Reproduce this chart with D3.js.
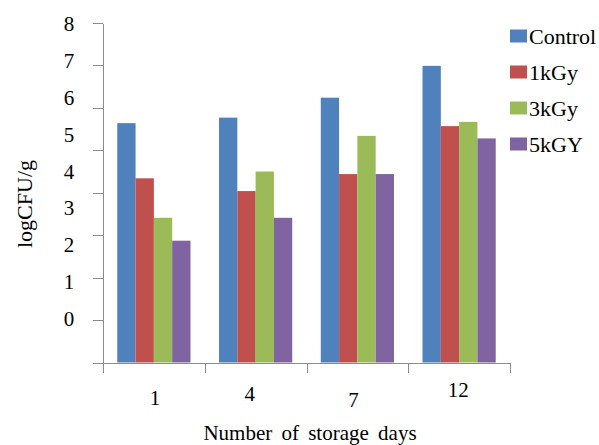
<!DOCTYPE html>
<html>
  <head>
    <title>logCFU/g by storage days</title>
    <meta charset="utf-8">
    <style>
      body {
        margin: 0;
        background-color: white;
      }
      svg text {
        font-family: "Liberation Serif", "Times New Roman", "DejaVu Serif", serif;
        fill: black;
      }
      .axis path,
      .axis line {
        fill: none;
        stroke: #8c8c8c;
        shape-rendering: crispEdges;
      }
    </style>
  </head>
  <body>
  <svg class="graph"></svg>
  <script src="https://d3js.org/d3.v7.min.js"></script>
  <script>
  // data
  var days = ["1", "4", "7", "12"];
  var series = ["Control", "1kGy", "3kGy", "5kGY"];
  var control = [5.64, 5.77, 6.24, 6.99];
  var kGy1 = [4.34, 4.04, 4.44, 5.57];
  var kGy3 = [3.41, 4.50, 5.34, 5.67];
  var kGy5 = [2.87, 3.41, 4.44, 5.28];
  var yTicks = [0, 1, 2, 3, 4, 5, 6, 7, 8];
  var colors = ["#4f81bd", "#c0504d", "#9bbb59", "#8064a2"];

  var values = [control, kGy1, kGy3, kGy5];
  var rows = days.map(function(d, i) {
    return {day: d, vals: series.map(function(s, j) { return {key: s, v: values[j][i]}; })};
  });

  var width = 599, height = 445;
  var plot = {left: 103, right: 510, top: 23, bottom: 362.5};

  var svg = d3.select("svg")
    .attr("width", width)
    .attr("height", height);

  var x0 = d3.scaleBand()
    .domain(days)
    .range([plot.left, plot.right]);

  var x1 = d3.scaleBand()
    .domain(series)
    .range([0, x0.bandwidth()])
    .paddingOuter(0.78);

  var y = d3.scaleLinear()
    .domain([0, 8])
    .range([plot.bottom, plot.top]);

  // the printed tick labels sit a bit off the tick marks in the original
  var yLab = d3.scaleLinear()
    .domain([0, 8])
    .range([318.8, 23.7]);

  var color = d3.scaleOrdinal().domain(series).range(colors);

  // bars
  var groups = svg.selectAll("g.day")
    .data(rows)
    .enter().append("g")
    .attr("class", "day")
    .attr("transform", function(d) { return "translate(" + x0(d.day) + ",0)"; });

  groups.selectAll("rect")
    .data(function(d) { return d.vals; })
    .enter().append("rect")
    .attr("x", function(d) { return x1(d.key); })
    .attr("y", function(d) { return y(d.v); })
    .attr("width", x1.bandwidth())
    .attr("height", function(d) { return y(0) - y(d.v); })
    .attr("fill", function(d) { return color(d.key); });

  // y axis (marks only)
  svg.append("g")
    .attr("class", "y axis")
    .attr("transform", "translate(" + plot.left + ",0)")
    .call(d3.axisLeft(y).tickValues(yTicks).tickSize(10).tickSizeOuter(0).tickFormat(""));

  svg.append("g")
    .selectAll("text")
    .data(yTicks)
    .enter().append("text")
    .attr("x", 69)
    .attr("y", function(d) { return yLab(d); })
    .attr("dy", "0.35em")
    .style("text-anchor", "middle")
    .style("font-size", "21px")
    .text(function(d) { return d; });

  // x axis with separators between the day groups
  var sep = d3.scaleLinear()
    .domain([0, days.length])
    .range([plot.left, plot.right]);

  svg.append("g")
    .attr("class", "x axis")
    .attr("transform", "translate(0," + plot.bottom + ")")
    .call(d3.axisBottom(sep).tickValues(d3.range(days.length + 1)).tickSize(10).tickSizeOuter(0).tickFormat(""));

  // day labels wobble a bit in the original
  var nudge = {"1": [1, 3], "4": [-6, -1], "7": [-4, 5], "12": [-1, -5]};
  svg.append("g")
    .selectAll("text")
    .data(days)
    .enter().append("text")
    .attr("x", function(d) { return x0(d) + x0.bandwidth() / 2 + nudge[d][0]; })
    .attr("y", function(d) { return 402 + nudge[d][1]; })
    .style("text-anchor", "middle")
    .style("font-size", "21px")
    .text(function(d) { return d; });

  // axis titles
  svg.append("text")
    .attr("x", 310)
    .attr("y", 440)
    .style("text-anchor", "middle")
    .style("font-size", "21px")
    .style("word-spacing", "4px")
    .text("Number of storage days");

  svg.append("text")
    .attr("transform", "translate(32,204) rotate(-90)")
    .style("text-anchor", "middle")
    .style("font-size", "22px")
    .text("logCFU/g");

  // legend
  var legend = svg.selectAll("g.legend")
    .data(series)
    .enter().append("g")
    .attr("class", "legend")
    .attr("transform", function(d, i) { return "translate(510," + (36 + i * 36) + ")"; });

  legend.append("rect")
    .attr("x", 0)
    .attr("y", -6.5)
    .attr("width", 17)
    .attr("height", 13)
    .attr("fill", function(d) { return color(d); });

  legend.append("text")
    .attr("x", 19)
    .attr("y", 0)
    .attr("dy", "0.35em")
    .style("font-size", "22px")
    .text(function(d) { return d; });
  </script>
  </body>
</html>
